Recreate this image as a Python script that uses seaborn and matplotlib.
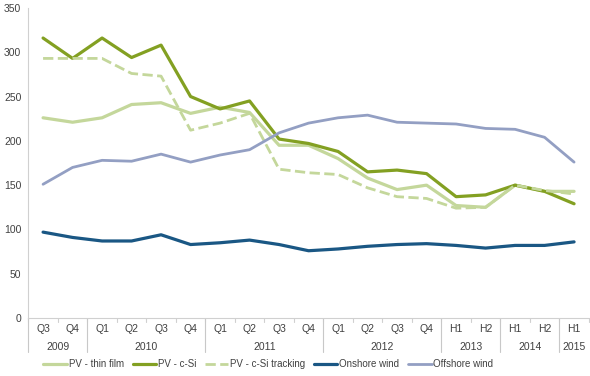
import matplotlib
matplotlib.use('Agg')
from matplotlib import pyplot as plt
import matplotlib.transforms as mtransforms
import numpy as np
import pandas as pd
import seaborn as sns

# Periods (two-level x axis)
periods = ['Q3', 'Q4', 'Q1', 'Q2', 'Q3', 'Q4', 'Q1', 'Q2', 'Q3', 'Q4',
           'Q1', 'Q2', 'Q3', 'Q4', 'H1', 'H2', 'H1', 'H2', 'H1']
years = ['2009', '2010', '2011', '2012', '2013', '2014', '2015']
periods_per_year = [2, 4, 4, 4, 2, 2, 1]

# Series values
pv_thin_film = [226, 221, 226, 241, 243, 231, 238, 232, 195, 195,
                180, 158, 145, 150, 127, 125, 150, 143, 143]
pv_csi = [316, 293, 316, 294, 308, 250, 236, 245, 202, 197,
          188, 165, 167, 163, 137, 139, 150, 143, 129]
pv_csi_tracking = [293, 293, 293, 276, 273, 212, 220, 231, 168, 164,
                   162, 147, 137, 135, 124, 125, 150, 144, 140]
onshore_wind = [97, 91, 87, 87, 94, 83, 85, 88, 83, 76,
                78, 81, 83, 84, 82, 79, 82, 82, 86]
offshore_wind = [151, 170, 178, 177, 185, 176, 184, 190, 209, 220,
                 226, 229, 221, 220, 219, 214, 213, 204, 176]

series = {
    'PV - thin film': (pv_thin_film, '#c4d79b', '-', 2.3),
    'PV - c-Si': (pv_csi, '#83a022', '-', 2.3),
    'PV - c-Si tracking': (pv_csi_tracking, '#c4d79b', '--', 2.0),
    'Onshore wind': (onshore_wind, '#1a5784', '-', 2.3),
    'Offshore wind': (offshore_wind, '#939fc3', '-', 2.0),
}

sns.set_style('white')
plt.rcParams['font.family'] = ['Liberation Sans', 'DejaVu Sans']

fig = plt.figure(figsize=(5.9, 3.76), dpi=100)
ax = fig.add_axes([0.048, 0.154, 0.950, 0.825])

x = np.arange(len(periods))
for name, (vals, color, ls, lw) in series.items():
    df = pd.DataFrame({'x': x, 'y': vals})
    sns.lineplot(data=df, x='x', y='y', ax=ax, color=color, linestyle=ls,
                 linewidth=lw, label=name)

ax.set_xlim(-0.5, len(periods) - 0.5)
ax.set_ylim(0, 350)
ax.set_yticks(range(0, 351, 50))
ax.tick_params(axis='y', labelsize=7.5, colors='#404040', length=3,
               color='#d0d0d0', pad=2)
ax.set_xlabel('')
ax.set_ylabel('')

for side in ['top', 'right']:
    ax.spines[side].set_visible(False)
for side in ['left', 'bottom']:
    ax.spines[side].set_color('#d0d0d0')
    ax.spines[side].set_linewidth(0.8)

# quarter labels
ax.set_xticks(x)
ax.set_xticklabels(periods)
ax.tick_params(axis='x', labelsize=7.5, colors='#404040', length=0, pad=4)
# small tick marks between categories
trans = mtransforms.blended_transform_factory(ax.transData, ax.transAxes)
for b in np.arange(-0.5, len(periods), 1):
    ax.plot([b, b], [0, -0.012], color='#d0d0d0', lw=0.8,
            transform=trans, clip_on=False)

# year labels and separators
bounds = np.concatenate([[0], np.cumsum(periods_per_year)]) - 0.5
for i, yr in enumerate(years):
    center = (bounds[i] + bounds[i + 1]) / 2
    ax.text(center, -0.092, yr, transform=trans, ha='center', va='center',
            fontsize=7.5, color='#404040')
for b in bounds[:-1]:
    ax.plot([b, b], [0, -0.11], color='#c8c8c8', lw=0.8,
            transform=trans, clip_on=False)

ax.legend(loc='lower center', bbox_to_anchor=(0.455, -0.005),
          bbox_transform=fig.transFigure, ncol=5, frameon=False,
          fontsize=7.0, handlelength=2.4, handletextpad=0.2,
          columnspacing=0.9, labelcolor='#404040')

fig.savefig('out.png', dpi=100)
